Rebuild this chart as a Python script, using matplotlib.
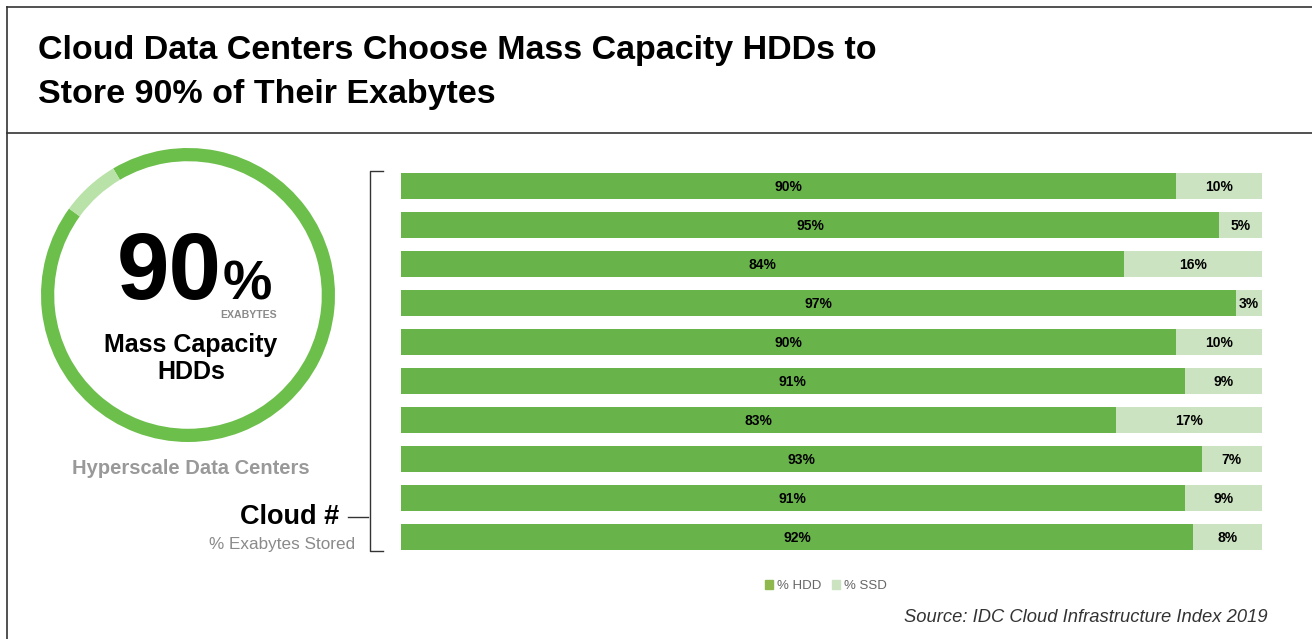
import matplotlib.pyplot as plt
from matplotlib.lines import Line2D
from matplotlib.patches import Patch

plt.rcParams['font.family'] = ['Liberation Sans', 'DejaVu Sans']

W, H = 1312, 639

# data
clouds = list(range(1, 11))
hdd_pct = [90, 95, 84, 97, 90, 91, 83, 93, 91, 92]
ssd_pct = [10, 5, 16, 3, 10, 9, 17, 7, 9, 8]
# ring split as drawn in the picture (light arc is a bit short of 10%)
ring_share = [93.5, 6.5]

HDD_COLOR = '#69b44a'
SSD_COLOR = '#cbe3c0'
RING_LIGHT = '#b9e2a8'
RING_DARK = '#6cbf4b'


def fx(px):
    return px / W


def fy(py):
    return 1 - py / H


fig = plt.figure(figsize=(W / 100, H / 100), dpi=100)
fig.patch.set_facecolor('white')

# frame lines
for x0, y0, x1, y1 in [(7, 7, W, 7), (7, 7, 7, H), (7, 133, W, 133)]:
    fig.add_artist(Line2D([fx(x0), fx(x1)], [fy(y0), fy(y1)], color='#333333', lw=1.2))

# title
fig.text(fx(38), fy(50), 'Cloud Data Centers Choose Mass Capacity HDDs to',
         fontsize=24.5, fontweight='bold', va='center', ha='left')
fig.text(fx(38), fy(95), 'Store 90% of Their Exabytes',
         fontsize=24.5, fontweight='bold', va='center', ha='left')

# donut
cx, cy, r = 188, 295, 147
dax = fig.add_axes([fx(cx - r), fy(cy + r), fx(2 * r), (2 * r) / H])
dax.pie(ring_share, colors=[RING_DARK, RING_LIGHT], startangle=144, counterclock=True,
        radius=1, wedgeprops=dict(width=0.09, edgecolor='none'))
dax.set_xlim(-1, 1)
dax.set_ylim(-1, 1)
dax.set_aspect('auto')
dax.axis('off')

fig.text(fx(222), fy(299), '90', fontsize=68, fontweight='bold', ha='right', va='baseline')
fig.text(fx(223), fy(299), '%', fontsize=40, fontweight='bold', ha='left', va='baseline')
fig.text(fx(277), fy(315), 'EXABYTES', fontsize=7.6, fontweight='bold', color='#8a8a8a',
         ha='right', va='center')
fig.text(fx(191), fy(345), 'Mass Capacity', fontsize=18, fontweight='bold', ha='center', va='center')
fig.text(fx(191), fy(372), 'HDDs', fontsize=18, fontweight='bold', ha='center', va='center')
fig.text(fx(191), fy(468), 'Hyperscale Data Centers', fontsize=14.5, fontweight='bold',
         color='#999999', ha='center', va='center')

# Cloud # label with bracket
fig.text(fx(339), fy(517), 'Cloud #', fontsize=19.5, fontweight='bold', ha='right', va='center')
fig.text(fx(355), fy(545), '% Exabytes Stored', fontsize=12.3, color='#8a8a8a', ha='right', va='center')
fig.add_artist(Line2D([fx(348), fx(368)], [fy(517), fy(517)], color='#333333', lw=1))
fig.add_artist(Line2D([fx(383), fx(370), fx(370), fx(383)],
                      [fy(171), fy(171), fy(551), fy(551)], color='#333333', lw=1))

# bars
row_h = 39
top = 186 - row_h / 2
ax = fig.add_axes([fx(401), fy(top + row_h * len(clouds)), fx(861), row_h * len(clouds) / H])
ypos = list(range(len(clouds)))
ax.barh(ypos, hdd_pct, height=0.67, color=HDD_COLOR, label='% HDD')
ax.barh(ypos, ssd_pct, left=hdd_pct, height=0.67, color=SSD_COLOR, label='% SSD')
for i, (h, s) in enumerate(zip(hdd_pct, ssd_pct)):
    ax.text(h / 2, i + 0.03, f'{h}%', ha='center', va='center', fontsize=10, fontweight='bold')
    ax.text(h + s / 2, i + 0.03, f'{s}%', ha='center', va='center', fontsize=10, fontweight='bold')
ax.set_xlim(0, 100)
ax.set_ylim(len(clouds) - 0.5, -0.5)
ax.axis('off')

handles = [Patch(color='#8fb84e', label='% HDD'), Patch(color=SSD_COLOR, label='% SSD')]
fig.legend(handles=handles, loc='center', bbox_to_anchor=(fx(826), fy(586)), ncol=2,
           frameon=False, fontsize=9.5, handlelength=0.6, handleheight=0.6,
           handletextpad=0.3, columnspacing=0.8, labelcolor='#666666')

fig.text(fx(1268), fy(618), 'Source: IDC Cloud Infrastructure Index 2019', fontsize=13.2,
         style='italic', color='#333333', ha='right', va='center')

fig.savefig('out.png', dpi=100)
